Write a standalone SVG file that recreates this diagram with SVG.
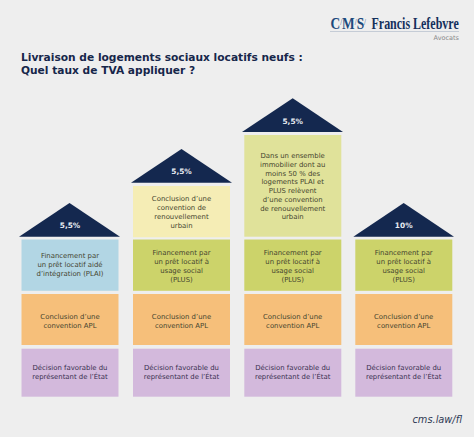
<svg xmlns="http://www.w3.org/2000/svg" width="474" height="437" viewBox="0 0 474 437">
<style>
text{font-family:"DejaVu Sans",Verdana,sans-serif}
.t{font-size:6.9px;fill:#45452f;text-anchor:middle}
.p{font-size:6.9px;fill:#3a3050;text-anchor:middle}
.r{fill:#14284f}
.v{font-size:7.4px;font-weight:bold;fill:#e8ecf2;text-anchor:middle}
.h{font-size:10.65px;font-weight:bold;fill:#16264a}
.blue{fill:#b2d6e4}.yel{fill:#f5edb5}.lime{fill:#e0e29a}.grn{fill:#ccd36a}.org{fill:#f6bf7a}.pur{fill:#d3b9dc}
</style>
<rect width="474" height="437" fill="#eeeeee"/>
<g id="logo">
<text transform="translate(330.5 28.5) scale(0.84 1)" x="0" y="0" font-size="16" font-weight="bold" style="font-family:'Liberation Serif',serif" fill="#1d4a7c">C<tspan font-size="8" dy="-4" font-weight="normal">/</tspan><tspan dy="4">M</tspan><tspan font-size="8" dy="-4" font-weight="normal">/</tspan><tspan dy="4">S</tspan><tspan font-size="8" dy="-4" font-weight="normal">/</tspan></text>
<text transform="translate(371.5 28.5) scale(0.7487 1)" x="0" y="0" font-size="16" font-weight="bold" style="font-family:'Liberation Serif',serif" fill="#14305c">Francis Lefebvre</text>
<rect x="330" y="31" width="129" height="1" fill="#c5ccd6"/>
<text x="459" y="39.500" font-size="6.500" fill="#8a8a8a" text-anchor="end">Avocats</text>
</g>
<g id="title">
<text class="h" x="21" y="60.500">Livraison de logements sociaux locatifs neufs :</text>
<text class="h" x="21" y="73.500">Quel taux de TVA appliquer ?</text>
</g>
<g id="col1">
<polygon class="r" points="69.5,203 19,236.7 120,236.7"/>
<text class="v" x="70" y="228">5,5%</text>
<rect class="blue" x="21.5" y="239.5" width="97" height="51.3"/>
<text class="t"><tspan x="70" y="258">Financement par</tspan><tspan x="70" y="267">un prêt locatif aidé</tspan><tspan x="70" y="276">d’intégration (PLAI)</tspan></text>
<rect class="org" x="21.5" y="294" width="97" height="51"/>
<text class="t"><tspan x="70" y="319">Conclusion d’une</tspan><tspan x="70" y="328">convention APL</tspan></text>
<rect class="pur" x="21.5" y="348.7" width="97" height="48"/>
<text class="p"><tspan x="70" y="370">Décision favorable du</tspan><tspan x="70" y="379">représentant de l’État</tspan></text>
</g>
<g id="col2">
<polygon class="r" points="181.5,149 131,182.7 232,182.7"/>
<text class="v" x="181.5" y="174">5,5%</text>
<rect class="yel" x="133" y="186" width="97" height="51.3"/>
<text class="t"><tspan x="181.5" y="201">Conclusion d’une</tspan><tspan x="181.5" y="210">convention de</tspan><tspan x="181.5" y="219">renouvellement</tspan><tspan x="181.5" y="228">urbain</tspan></text>
<rect class="grn" x="133" y="239.5" width="97" height="51.3"/>
<text class="t"><tspan x="181.5" y="255">Financement par</tspan><tspan x="181.5" y="264">un prêt locatif à</tspan><tspan x="181.5" y="273">usage social</tspan><tspan x="181.5" y="282">(PLUS)</tspan></text>
<rect class="org" x="133" y="294" width="97" height="51"/>
<text class="t"><tspan x="181.5" y="319">Conclusion d’une</tspan><tspan x="181.5" y="328">convention APL</tspan></text>
<rect class="pur" x="133" y="348.7" width="97" height="48"/>
<text class="p"><tspan x="181.5" y="370">Décision favorable du</tspan><tspan x="181.5" y="379">représentant de l’État</tspan></text>
</g>
<g id="col3">
<polygon class="r" points="292.7,98.3 242,132 343,132"/>
<text class="v" x="292.7" y="124">5,5%</text>
<rect class="lime" x="244.3" y="135" width="97" height="101.7"/>
<text class="t"><tspan x="292.7" y="158">Dans un ensemble</tspan><tspan x="292.7" y="167">immobilier dont au</tspan><tspan x="292.7" y="175.500">moins 50 % des</tspan><tspan x="292.7" y="184">logements PLAI et</tspan><tspan x="292.7" y="193">PLUS relèvent</tspan><tspan x="292.7" y="202">d’une convention</tspan><tspan x="292.7" y="210.500">de renouvellement</tspan><tspan x="292.7" y="219">urbain</tspan></text>
<rect class="grn" x="244.3" y="239.5" width="97" height="51.3"/>
<text class="t"><tspan x="292.7" y="255">Financement par</tspan><tspan x="292.7" y="264">un prêt locatif à</tspan><tspan x="292.7" y="273">usage social</tspan><tspan x="292.7" y="282">(PLUS)</tspan></text>
<rect class="org" x="244.3" y="294" width="97" height="51"/>
<text class="t"><tspan x="292.7" y="319">Conclusion d’une</tspan><tspan x="292.7" y="328">convention APL</tspan></text>
<rect class="pur" x="244.3" y="348.7" width="97" height="48"/>
<text class="p"><tspan x="292.7" y="370">Décision favorable du</tspan><tspan x="292.7" y="379">représentant de l’État</tspan></text>
</g>
<g id="col4">
<polygon class="r" points="403.7,203 353.3,236.7 454,236.7"/>
<text class="v" x="403.7" y="228">10%</text>
<rect class="grn" x="355.3" y="239.5" width="97" height="51.3"/>
<text class="t"><tspan x="403.7" y="255">Financement par</tspan><tspan x="403.7" y="264">un prêt locatif à</tspan><tspan x="403.7" y="273">usage social</tspan><tspan x="403.7" y="282">(PLUS)</tspan></text>
<rect class="org" x="355.3" y="294" width="97" height="51"/>
<text class="t"><tspan x="403.7" y="319">Conclusion d’une</tspan><tspan x="403.7" y="328">convention APL</tspan></text>
<rect class="pur" x="355.3" y="348.7" width="97" height="48"/>
<text class="p"><tspan x="403.7" y="370">Décision favorable du</tspan><tspan x="403.7" y="379">représentant de l’État</tspan></text>
</g>
<g id="connectors"/>
<text x="462" y="423" font-size="9.800" font-style="italic" fill="#2f3a55" text-anchor="end">cms.law/fl</text>
</svg>
